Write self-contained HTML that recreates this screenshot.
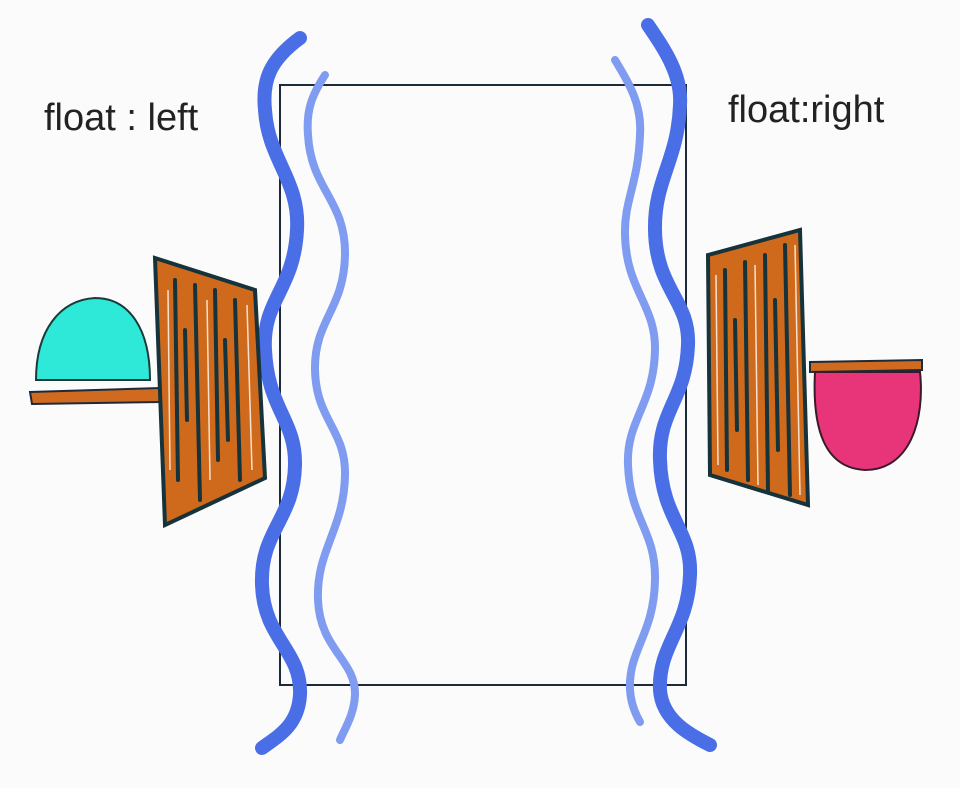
<!DOCTYPE html>
<html><head><meta charset="utf-8"><style>
html,body{margin:0;padding:0;background:#fbfbfb;}
svg{display:block}
text{font-family:"Liberation Sans",sans-serif;font-weight:300;fill:#222}
</style></head><body>
<svg width="960" height="788" viewBox="0 0 960 788">
<rect x="0" y="0" width="960" height="788" fill="#fbfbfb"/>
<text x="44" y="130" font-size="38">float : left</text>
<text x="728" y="122" font-size="38">float:right</text>

<rect x="280" y="85" width="406" height="600" fill="none" stroke="#1c2a3a" stroke-width="2"/>

<path d="M300 38 C270 60 262 80 265 110 C268 160 300 180 297 230 C294 290 262 300 265 350 C268 410 296 420 295 465 C294 520 260 530 262 585 C264 640 302 650 300 695 C298 725 280 735 262 748" fill="none" stroke="#4a6ee6" stroke-width="14" stroke-linecap="round"/>
<path d="M325 75 C312 95 306 110 308 135 C311 190 346 200 345 255 C344 310 314 320 315 370 C316 420 346 430 345 475 C344 530 316 550 318 600 C320 650 356 660 355 695 C354 715 345 728 340 740" fill="none" stroke="#7f9cf0" stroke-width="8" stroke-linecap="round"/>
<path d="M648 25 C665 50 682 75 680 105 C678 160 654 180 655 230 C656 290 690 300 688 345 C686 400 658 410 660 460 C662 520 692 530 690 575 C688 630 658 645 660 690 C662 720 690 735 710 745" fill="none" stroke="#4a6ee6" stroke-width="14" stroke-linecap="round"/>
<path d="M615 60 C630 85 642 105 640 135 C638 185 624 200 625 235 C626 290 656 305 655 350 C654 405 626 420 628 465 C630 520 656 530 655 580 C654 635 628 650 630 690 C631 705 636 715 640 722" fill="none" stroke="#7f9cf0" stroke-width="8" stroke-linecap="round"/>

<g>
<path d="M36 380 C36 330 60 300 95 298 C130 298 150 330 150 380 Z" fill="#2ee8d8" stroke="#1c3a3a" stroke-width="2"/>
<path d="M30 392 L160 388 L160 402 L32 404 Z" fill="#d06a1e" stroke="#1c2a3a" stroke-width="2"/>
<path d="M155 258 L255 290 L265 478 L165 525 Z" fill="#cf6a1c" stroke="#16323a" stroke-width="4"/>
<g stroke="#16323a" stroke-width="4" stroke-linecap="round">
<line x1="175" y1="280" x2="178" y2="480"/><line x1="195" y1="285" x2="200" y2="500"/><line x1="215" y1="290" x2="218" y2="460"/><line x1="235" y1="300" x2="240" y2="480"/><line x1="185" y1="330" x2="187" y2="420"/><line x1="225" y1="340" x2="228" y2="440"/>
</g>
<g stroke="#fff" stroke-width="1.5" opacity="0.8">
<line x1="168" y1="290" x2="170" y2="470"/><line x1="207" y1="300" x2="210" y2="480"/><line x1="247" y1="305" x2="252" y2="470"/>
</g>
</g>

<g>
<path d="M708 255 L800 230 L808 505 L710 475 Z" fill="#cf6a1c" stroke="#16323a" stroke-width="4"/>
<g stroke="#16323a" stroke-width="4" stroke-linecap="round">
<line x1="725" y1="270" x2="727" y2="470"/><line x1="745" y1="262" x2="748" y2="480"/><line x1="765" y1="255" x2="768" y2="490"/><line x1="785" y1="245" x2="790" y2="495"/><line x1="735" y1="320" x2="737" y2="430"/><line x1="775" y1="300" x2="778" y2="450"/>
</g>
<g stroke="#fff" stroke-width="1.5" opacity="0.8">
<line x1="716" y1="275" x2="718" y2="465"/><line x1="755" y1="265" x2="758" y2="485"/><line x1="795" y1="245" x2="800" y2="495"/>
</g>
<path d="M810 362 L922 360 L922 370 L810 372 Z" fill="#d06a1e" stroke="#1c2a3a" stroke-width="2"/>
<path d="M815 372 L920 372 C925 420 910 470 865 470 C825 468 812 430 815 372 Z" fill="#e8357a" stroke="#3a1a2a" stroke-width="2"/>
</g>
</svg>
</body></html>
